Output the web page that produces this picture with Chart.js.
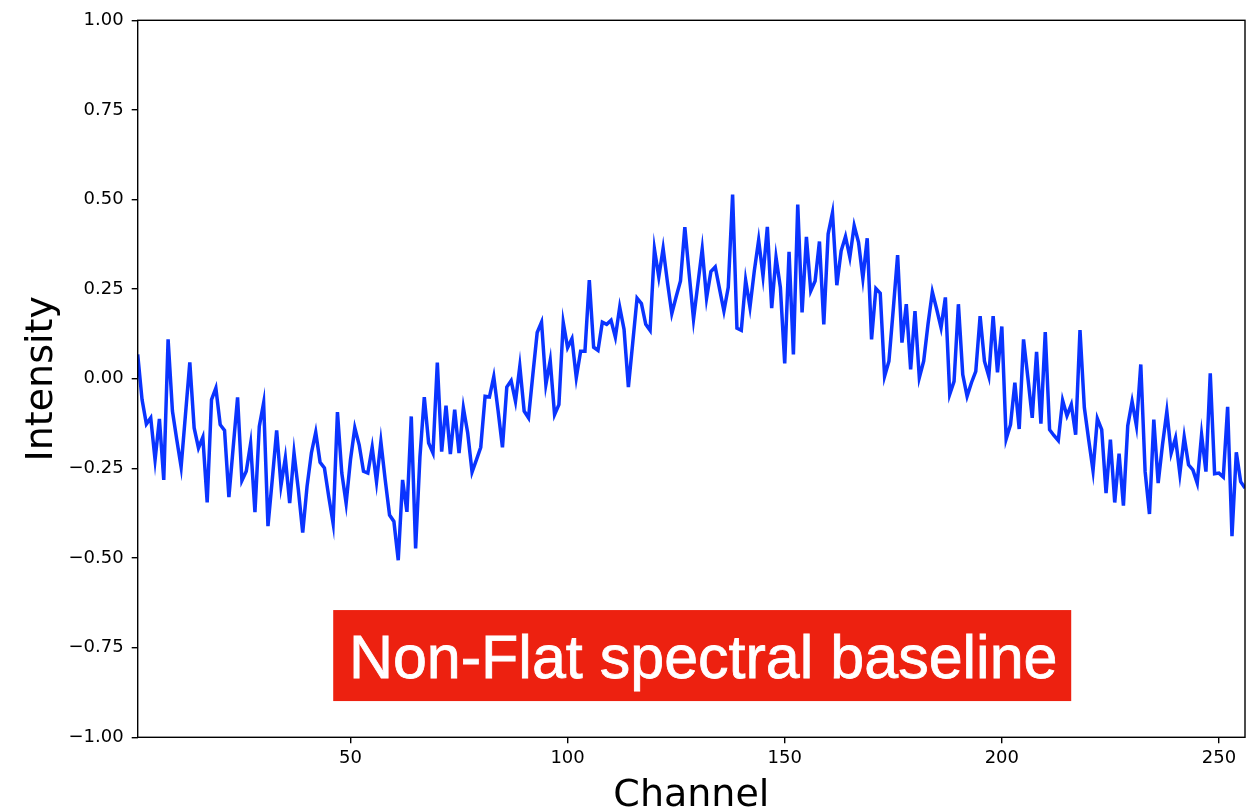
<!DOCTYPE html>
<html>
<head>
<meta charset="utf-8">
<title>Non-Flat spectral baseline</title>
<script src="https://cdn.jsdelivr.net/npm/chart.js@4.4.1/dist/chart.umd.min.js"></script>
<style>
  html, body { margin: 0; padding: 0; background: #ffffff; }
  #wrap { width: 1255px; height: 811px; position: relative; overflow: hidden; }
  canvas { display: block; }
</style>
</head>
<body>
<div id="wrap"><canvas id="spectrum" width="1255" height="811"></canvas></div>
<script>
// Measured intensity for each detector channel (channel 1 .. 256)
const intensity = [
   0.068, -0.058, -0.126, -0.109, -0.226, -0.112, -0.282,  0.110, -0.090, -0.170,
  -0.246, -0.100,  0.046, -0.137, -0.193, -0.163, -0.345, -0.058, -0.026, -0.128,
  -0.144, -0.330, -0.190, -0.052, -0.284, -0.258, -0.181, -0.372, -0.133, -0.067,
  -0.411, -0.280, -0.144, -0.298, -0.221, -0.347, -0.207, -0.310, -0.429, -0.300,
  -0.207, -0.149, -0.233, -0.249, -0.329, -0.403, -0.093, -0.263, -0.347, -0.226,
  -0.137, -0.184, -0.258, -0.263, -0.191, -0.287, -0.175, -0.282, -0.380, -0.398,
  -0.506, -0.282, -0.371, -0.105, -0.473, -0.217, -0.051, -0.179, -0.207,  0.045,
  -0.203, -0.075, -0.210, -0.086, -0.207, -0.081, -0.151, -0.260, -0.226, -0.191,
  -0.049, -0.051,  0.006, -0.090, -0.191, -0.023, -0.005, -0.063,  0.035, -0.090,
  -0.109,  0.012,  0.129,  0.158, -0.016,  0.051, -0.100, -0.072,  0.157,  0.087,
   0.112,  0.003,  0.077,  0.077,  0.275,  0.088,  0.079,  0.158,  0.152,  0.163,
   0.116,  0.200,  0.138, -0.023,  0.100,  0.225,  0.210,  0.152,  0.135,  0.362,
   0.284,  0.364,  0.269,  0.182,  0.229,  0.273,  0.423,  0.292,  0.166,  0.264,
   0.362,  0.225,  0.299,  0.312,  0.250,  0.189,  0.255,  0.514,  0.141,  0.135,
   0.275,  0.200,  0.301,  0.387,  0.287,  0.424,  0.197,  0.339,  0.255,  0.043,
   0.354,  0.068,  0.486,  0.185,  0.396,  0.245,  0.273,  0.383,  0.152,  0.404,
   0.463,  0.261,  0.357,  0.397,  0.339,  0.427,  0.381,  0.280,  0.392,  0.110,
   0.252,  0.239,  0.007,  0.049,  0.194,  0.345,  0.101,  0.208,  0.026,  0.189,
   0.003,  0.049,  0.152,  0.242,  0.194,  0.143,  0.227, -0.043, -0.007,  0.208,
   0.012, -0.049, -0.011,  0.021,  0.175,  0.049,  0.007,  0.175,  0.018,  0.146,
  -0.168, -0.128, -0.011, -0.140,  0.110,  0.003, -0.109,  0.075, -0.125,  0.130,
  -0.142, -0.158, -0.172, -0.060, -0.103, -0.072, -0.156,  0.136, -0.080, -0.170,
  -0.256, -0.111, -0.142, -0.319, -0.170, -0.345, -0.209, -0.354, -0.131, -0.063,
  -0.131,  0.040, -0.259, -0.377, -0.114, -0.291, -0.184, -0.091, -0.207, -0.165,
  -0.265, -0.162, -0.240, -0.254, -0.291, -0.156, -0.259,  0.015, -0.265, -0.263,
  -0.274, -0.078, -0.439, -0.205, -0.287, -0.305
];

// Channel numbers run from 1 to the number of samples
const channels = intensity.map((_, i) => i + 1);

// Axis ticks
const xTicks = [50, 100, 150, 200, 250];
const yTicks = [-1.00, -0.75, -0.50, -0.25, 0.00, 0.25, 0.50, 0.75, 1.00];

// Annotation text
const bannerText = 'Non-Flat spectral baseline';

const points = channels.map((c, i) => ({ x: c, y: intensity[i] }));

const tickFont = { family: '"DejaVu Sans", sans-serif', size: 18 };
const titleFont = { family: '"DejaVu Sans", sans-serif', size: 38, lineHeight: 1 };

// Black frame around the plotting area, drawn over the trace
const framePlugin = {
  id: 'frame',
  afterDatasetsDraw(chart) {
    const { ctx, chartArea: a } = chart;
    ctx.save();
    ctx.strokeStyle = '#000000';
    ctx.lineWidth = 1.4;
    ctx.strokeRect(a.left, a.top, a.right - a.left, a.bottom - a.top);
    ctx.restore();
  }
};

// Red label box with white text in the lower part of the plot
const bannerPlugin = {
  id: 'banner',
  afterDraw(chart) {
    const { ctx } = chart;
    const xs = chart.scales.x, ys = chart.scales.y;
    const cx = xs.getPixelForValue(131);
    const cy = ys.getPixelForValue(-0.772);
    const w = 738, h = 91;
    ctx.save();
    ctx.fillStyle = '#ED2110';
    ctx.fillRect(cx - w / 2, cy - h / 2, w, h);
    ctx.fillStyle = '#ffffff';
    ctx.strokeStyle = '#ffffff';
    ctx.lineWidth = 0.8;
    ctx.font = '61px "Liberation Sans", Arial, sans-serif';
    ctx.textAlign = 'center';
    ctx.textBaseline = 'alphabetic';
    ctx.fillText(bannerText, cx + 1, cy + 22.5);
    ctx.strokeText(bannerText, cx + 1, cy + 22.5);
    ctx.restore();
  }
};

const fmt = v => {
  const s = Math.abs(v).toFixed(2);
  return v < 0 ? '\u2212' + s : s;
};

new Chart(document.getElementById('spectrum'), {
  type: 'line',
  data: {
    datasets: [{
      data: points,
      borderColor: '#0a34ff',
      borderWidth: 3.5,
      pointRadius: 0,
      tension: 0,
      fill: false
    }]
  },
  options: {
    responsive: false,
    animation: false,
    devicePixelRatio: 1,
    layout: { padding: { top: 20.3, right: 10, bottom: 0, left: 0 } },
    plugins: {
      legend: { display: false },
      tooltip: { enabled: false }
    },
    scales: {
      x: {
        type: 'linear',
        position: 'bottom',
        min: 1,
        max: 256,
        afterBuildTicks(s) { s.ticks = xTicks.map(v => ({ value: v })); },
        afterFit(s) { s.height = 73.7; },
        border: { display: false },
        grid: {
          drawOnChartArea: false,
          drawTicks: true,
          tickLength: 6,
          color: '#000000',
          lineWidth: 1.4
        },
        ticks: {
          color: '#000000',
          font: tickFont,
          padding: 4,
          maxRotation: 0,
          autoSkip: false,
          callback: v => String(v)
        },
        title: {
          display: true,
          text: 'Channel',
          color: '#000000',
          font: titleFont,
          padding: { top: 0, bottom: -4 }
        }
      },
      y: {
        type: 'linear',
        position: 'left',
        min: -1,
        max: 1,
        afterBuildTicks(s) { s.ticks = yTicks.map(v => ({ value: v })); },
        afterFit(s) { s.width = 137.7; },
        border: { display: false },
        grid: {
          drawOnChartArea: false,
          drawTicks: true,
          tickLength: 6,
          color: '#000000',
          lineWidth: 1.4
        },
        ticks: {
          color: '#000000',
          font: tickFont,
          padding: 8,
          autoSkip: false,
          callback: v => fmt(v)
        },
        title: {
          display: true,
          text: 'Intensity',
          color: '#000000',
          font: titleFont,
          padding: { top: 23, bottom: 0 }
        }
      }
    }
  },
  plugins: [framePlugin, bannerPlugin]
});
</script>
</body>
</html>
